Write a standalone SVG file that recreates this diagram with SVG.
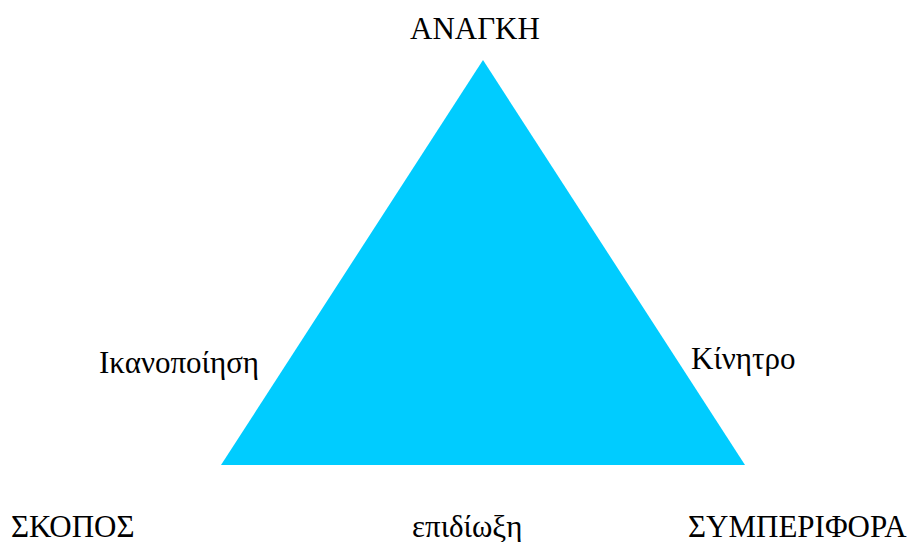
<svg xmlns="http://www.w3.org/2000/svg" width="917" height="542" viewBox="0 0 917 542">
<style>
text{font-family:"Liberation Serif","Times New Roman",serif;font-size:31px;fill:#000}
</style>
<rect width="917" height="542" fill="#fff"/>
<g id="triangle"><polygon points="483,60 221,465 745,465" fill="#00CCFF"/></g>
<g id="connectors"/>
<g id="anagki"><text x="410" y="39">ΑΝΑΓΚΗ</text></g>
<g id="ikanopoiisi"><text x="99" y="373">Ικανοποίηση</text></g>
<g id="kinitro"><text x="691" y="369">Κίνητρο</text></g>
<g id="skopos"><text x="11" y="537">ΣΚΟΠΟΣ</text></g>
<g id="epidioxi"><text x="412" y="537">επιδίωξη</text></g>
<g id="symperifora"><text x="688" y="537">ΣΥΜΠΕΡΙΦΟΡΑ</text></g>
</svg>
